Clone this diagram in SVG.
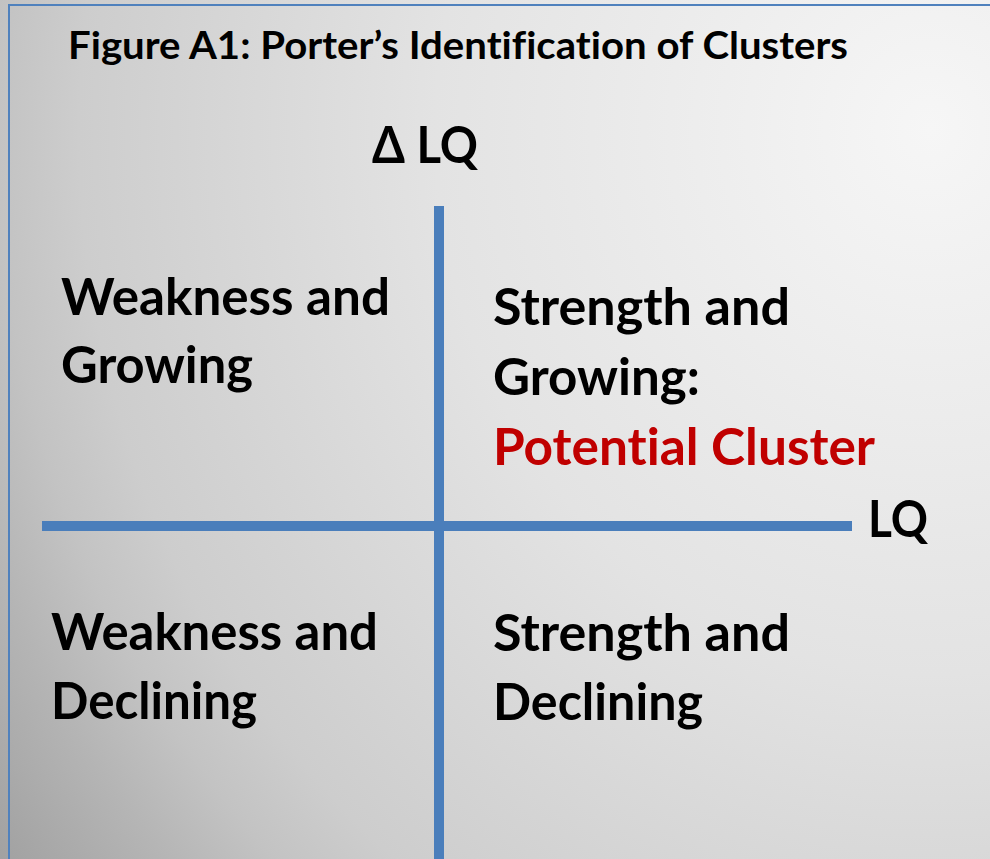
<svg xmlns="http://www.w3.org/2000/svg" width="990" height="859" viewBox="0 0 990 859">
  <defs>
    <radialGradient id="bg" gradientUnits="userSpaceOnUse" cx="930" cy="130" r="1150" gradientTransform="translate(930 130) scale(1 1.1) translate(-930 -130)">
      <stop offset="0" stop-color="#f6f6f6"/>
      <stop offset="0.43" stop-color="#e3e3e3"/>
      <stop offset="0.74" stop-color="#cdcdcd"/>
      <stop offset="0.81" stop-color="#c3c3c3"/>
      <stop offset="0.88" stop-color="#b5b5b5"/>
      <stop offset="1" stop-color="#a0a0a0"/>
    </radialGradient>
    <style>
      .t { font-family: Lato, "Open Sans", "Liberation Sans", sans-serif; font-weight: bold; fill: #000000; font-variant-ligatures: none; font-feature-settings: "liga" 0, "clig" 0; }
      .lbl { font-size: 51px; }
      .title { font-size: 38px; }
      .red { fill: #c00000; }
      .axis { fill: #4a7ebb; }
      .border { stroke: #4f81bd; stroke-width: 2; fill: none; }
    </style>
  </defs>

  <rect x="0" y="0" width="990" height="859" fill="url(#bg)"/>
  <g id="frame">
    <line class="border" x1="9" y1="5" x2="9" y2="859"/>
    <line class="border" x1="8" y1="5" x2="990" y2="5"/>
  </g>

  <g id="title">
    <text class="t title" x="68" y="59" textLength="780" lengthAdjust="spacingAndGlyphs">Figure A1: Porter’s Identification of Clusters</text>
  </g>

  <g id="connectors">
    <rect class="axis" x="434" y="206" width="10" height="653"/>
    <rect class="axis" x="42" y="521" width="810" height="10"/>
  </g>

  <g id="axis-y-label">
    <text class="t lbl" x="372" y="163" textLength="106" lengthAdjust="spacingAndGlyphs">Δ LQ</text>
  </g>
  <g id="axis-x-label">
    <text class="t lbl" x="868" y="537" textLength="60" lengthAdjust="spacingAndGlyphs">LQ</text>
  </g>

  <g id="weakness-growing">
    <text class="t lbl" x="61" y="315" textLength="329" lengthAdjust="spacingAndGlyphs">Weakness and</text>
    <text class="t lbl" x="61" y="383" textLength="192" lengthAdjust="spacingAndGlyphs">Growing</text>
  </g>

  <g id="strength-growing">
    <text class="t lbl" x="493" y="325" textLength="297" lengthAdjust="spacingAndGlyphs">Strength and</text>
    <text class="t lbl" x="493" y="395" textLength="207" lengthAdjust="spacingAndGlyphs">Growing:</text>
    <text class="t lbl red" x="493" y="465" textLength="382" lengthAdjust="spacingAndGlyphs">Potential Cluster</text>
  </g>

  <g id="weakness-declining">
    <text class="t lbl" x="51" y="650" textLength="327" lengthAdjust="spacingAndGlyphs">Weakness and</text>
    <text class="t lbl" x="51" y="719" textLength="206" lengthAdjust="spacingAndGlyphs">Declining</text>
  </g>

  <g id="strength-declining">
    <text class="t lbl" x="493" y="651" textLength="297" lengthAdjust="spacingAndGlyphs">Strength and</text>
    <text class="t lbl" x="493" y="720" textLength="210" lengthAdjust="spacingAndGlyphs">Declining</text>
  </g>
</svg>
